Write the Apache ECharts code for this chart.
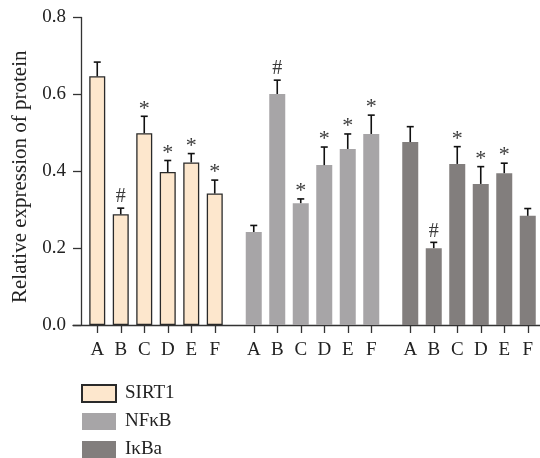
<!DOCTYPE html>
<html>
<head>
<meta charset="utf-8">
<script src="https://cdn.jsdelivr.net/npm/echarts@6/dist/echarts.min.js"></script>
<style>
  html, body { margin: 0; padding: 0; background: #fff; }
  #chart { width: 540px; height: 458px; }
</style>
</head>
<body>
<div id="chart"></div>
<script>
// data
var categories = ['A', 'B', 'C', 'D', 'E', 'F'];
var seriesNames = ['SIRT1', 'NFκB', 'IκBa'];

var sirt1 = [0.647, 0.288, 0.499, 0.398, 0.423, 0.342];
var sirt1Err = [0.037, 0.016, 0.044, 0.030, 0.023, 0.035];
var sirt1Mark = ['', '#', '*', '*', '*', '*'];

var nfkb = [0.242, 0.601, 0.317, 0.416, 0.458, 0.497];
var nfkbErr = [0.017, 0.036, 0.011, 0.047, 0.039, 0.049];
var nfkbMark = ['', '#', '*', '*', '*', '*'];

var ikba = [0.476, 0.200, 0.419, 0.367, 0.395, 0.284];
var ikbaErr = [0.040, 0.015, 0.045, 0.045, 0.026, 0.019];
var ikbaMark = ['', '#', '*', '*', '*', ''];

var yTicks = [0, 0.2, 0.4, 0.6, 0.8];

var colors = ['#fde7cd', '#a7a5a7', '#827e7d'];
var values = [sirt1, nfkb, ikba];
var errors = [sirt1Err, nfkbErr, ikbaErr];
var marks = [sirt1Mark, nfkbMark, ikbaMark];

var font = '"Liberation Serif", "Times New Roman", serif';
var axisColor = '#333';

var chart = echarts.init(document.getElementById('chart'));

var grids = [
    { left: 73, right: 0, top: 17.5, bottom: 133 },
    { left: 85.5, width: 141, top: 17.5, bottom: 133 },
    { left: 242, width: 141, top: 17.5, bottom: 133 },
    { left: 398.5, width: 141, top: 17.5, bottom: 133 }
];

var xAxes = [{
    gridIndex: 0, type: 'value', min: 0, max: 1,
    axisLine: { show: true, lineStyle: { color: axisColor, width: 1.3 } },
    axisTick: { show: false }, axisLabel: { show: false }, splitLine: { show: false }
}];
var yAxes = [{
    gridIndex: 0, type: 'value', min: yTicks[0], max: yTicks[yTicks.length - 1],
    interval: 0.2, offset: -8,
    name: 'Relative expression of protein',
    nameLocation: 'middle', nameGap: 46,
    nameTextStyle: { fontFamily: font, fontSize: 21, color: '#222', padding: [0, 11, 0, 0] },
    axisLine: { show: true, lineStyle: { color: axisColor, width: 1.3 } },
    axisTick: { show: true, length: 8, lineStyle: { color: axisColor, width: 1.3 } },
    axisLabel: { margin: 15, fontFamily: font, fontSize: 19, color: '#222',
        formatter: function (v) { return v.toFixed(1); } },
    splitLine: { show: false }
}];

var series = [];

for (var g = 0; g < 3; g++) {
    xAxes.push({
        gridIndex: g + 1, type: 'category', data: categories,
        axisLine: { show: false },
        axisTick: { show: true, alignWithLabel: true, length: 8, lineStyle: { color: axisColor, width: 1.3 } },
        axisLabel: { margin: 16, fontFamily: font, fontSize: 19, color: '#222' }
    });
    yAxes.push({
        gridIndex: g + 1, type: 'value', min: 0, max: 0.8, show: false
    });

    var itemStyle = { color: colors[g] };
    if (g === 0) {
        itemStyle.borderColor = '#2a2a2a';
        itemStyle.borderWidth = 1.3;
    }

    series.push({
        name: seriesNames[g],
        type: 'bar',
        xAxisIndex: g + 1,
        yAxisIndex: g + 1,
        barWidth: 16,
        data: values[g],
        itemStyle: itemStyle,
        silent: true
    });

    //error bars + significance marks
    series.push({
        type: 'custom',
        xAxisIndex: g + 1,
        yAxisIndex: g + 1,
        silent: true,
        z: 5,
        data: values[g].map(function (v, i) { return [i, v, errors[g][i]]; }),
        renderItem: (function (gi) {
            return function (params, api) {
                var i = api.value(0);
                var v = api.value(1);
                var e = api.value(2);
                var m = marks[gi][params.dataIndex];
                var p0 = api.coord([i, v]);
                var p1 = api.coord([i, v + e]);
                var children = [
                    { type: 'line', shape: { x1: p0[0], y1: p0[1], x2: p1[0], y2: p1[1] },
                      style: { stroke: '#111', lineWidth: 1.6 } },
                    { type: 'line', shape: { x1: p1[0] - 3.5, y1: p1[1], x2: p1[0] + 3.5, y2: p1[1] },
                      style: { stroke: '#111', lineWidth: 1.6 } }
                ];
                if (m) {
                    children.push({
                        type: 'text',
                        style: {
                            text: m, x: p1[0], y: p1[1] + (m === '*' ? 3.5 : -1),
                            align: 'center', verticalAlign: 'bottom',
                            font: (m === '*' ? '22px ' : '20px ') + font,
                            fill: '#3a3a3a'
                        }
                    });
                }
                return { type: 'group', children: children };
            };
        })(g)
    });
}

var option = {
    animation: false,
    backgroundColor: '#fff',
    grid: grids,
    xAxis: xAxes,
    yAxis: yAxes,
    legend: {
        data: seriesNames,
        orient: 'vertical',
        left: 81,
        top: 384,
        height: 100,
        padding: 0,
        icon: 'rect',
        itemWidth: 34,
        itemHeight: 17,
        itemGap: 9,
        selectedMode: false,
        textStyle: { fontFamily: font, fontSize: 19, lineHeight: 17, color: '#222', padding: [0, 0, 0, 4] }
    },
    series: series
};

chart.setOption(option);
</script>
</body>
</html>
